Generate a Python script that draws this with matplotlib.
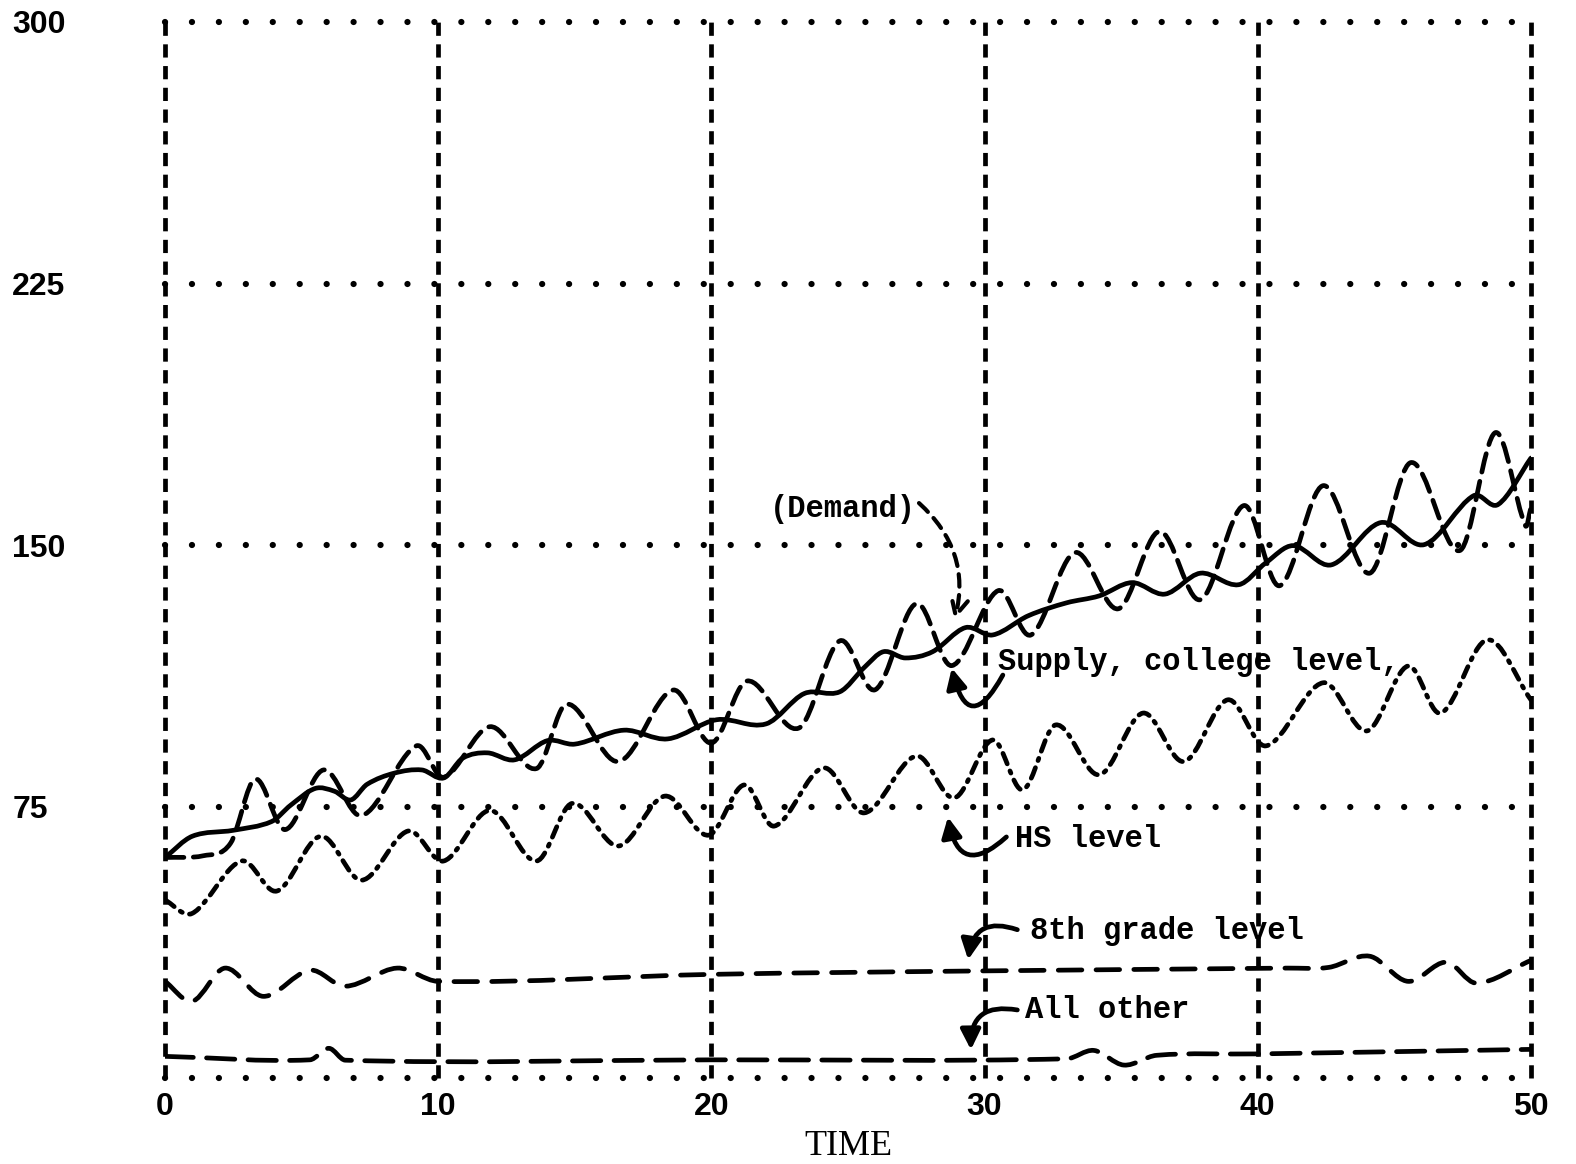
import matplotlib
matplotlib.use("Agg")
import matplotlib.pyplot as plt
from matplotlib.path import Path
from matplotlib.patches import PathPatch

# (time vs. manpower)
demand_t = [0, 1, 2.5, 3.9, 4.6, 5.5, 6.2, 6.8, 7.4, 8.4, 9.4, 10.2, 10.9, 11.8,
            12.8, 14, 15, 16.8, 18.4, 20.2, 22, 23.4, 24.7, 25.6, 26.3, 27.1,
            28.1, 29.3, 30.3, 31.6, 33, 34.2, 35.4, 36.6, 37.9, 39.3, 40.3,
            41.3, 42.7, 44.5, 46.1, 47.9, 48.8, 50]
demand = [60.5, 66.6, 68.3, 70.8, 75.5, 80.3, 79.5, 77, 81.5, 84.7, 85.6, 83.3,
          89, 90.5, 88.5, 94, 93, 97, 94.5, 100, 98.8, 107.5, 108, 115, 119.5,
          117.7, 119.5, 126.4, 124.3, 129.8, 133.5, 135.5, 139.3, 136, 142,
          138.7, 145, 149.9, 144.4, 156.5, 150.2, 164.2, 161.7, 175]

college_t = [0, 1.4, 2.4, 3.3, 4.4, 5.8, 7.2, 9.2, 10.2, 11.9, 13.6, 14.7, 16.6,
             18.6, 20, 21.3, 23.2, 24.7, 26, 27.5, 28.8, 30.5, 31.7, 33.3, 34.9,
             36.4, 37.9, 39.5, 40.8, 42.4, 44.1, 45.6, 47.4, 48.7, 49.8, 50]
college = [60.5, 61, 64.6, 83, 68.5, 85.6, 72.5, 92.5, 83.5, 98, 86, 104.5, 88,
           108.5, 93.3, 111.1, 97.6, 122.6, 108.6, 133.3, 115.5, 137, 124.3,
           147.9, 131.8, 154, 134.4, 161.4, 138.4, 167.1, 142, 173.7, 148.5,
           182.3, 155.6, 160.8]

hs_t = [0, 1, 2.8, 4.1, 5.7, 7.2, 8.9, 10.2, 11.9, 13.6, 14.9, 16.6, 18.3, 19.9,
        21.2, 22.3, 24.1, 25.6, 27.5, 28.9, 30.3, 31.4, 32.6, 34.2, 35.8, 37.3,
        38.9, 40.3, 42.4, 44, 45.5, 46.7, 48.4, 50]
hs = [48.3, 44.5, 59.5, 50.9, 66.6, 54, 68.1, 59.5, 74, 59.5, 76, 63.8, 78.1,
      66.9, 81.3, 69.5, 86.2, 73.3, 89.6, 77.6, 94.2, 79.9, 98.5, 84.2, 101.9,
      88, 105.7, 92.5, 110.6, 96.8, 115.4, 101.9, 122.9, 105.7]

grade8_t = [0, 1, 2.2, 3.6, 5.3, 6.6, 8.5, 10, 20, 30, 41.1, 42.6, 44.1, 45.5,
            46.9, 48, 50]
grade8 = [25, 19.3, 28.8, 20.7, 28.2, 23.6, 28.8, 25, 27, 28, 28.8, 29, 32.2,
          25, 30.5, 24.5, 31]

other_t = [0, 5.3, 6.0, 6.6, 20, 33, 34, 35.1, 36.3, 40, 50]
other = [3.5, 2.5, 5.8, 2.4, 2.5, 2.8, 5.2, 1, 3.8, 4.2, 5.5]

x_ticks = [0, 10, 20, 30, 40, 50]
y_ticks = [75, 150, 225, 300]
y_bottom = -2.7

mono = "Liberation Mono"
LW = 3.4


def curve(ax, xs, ys, **kw):
    # smooth pen-like curve through the read points (cubic Hermite as Bezier)
    n = len(xs)
    m = []
    for i in range(n):
        a, b = max(i - 1, 0), min(i + 1, n - 1)
        m.append((ys[b] - ys[a]) / (xs[b] - xs[a]))
    verts = [(xs[0], ys[0])]
    codes = [Path.MOVETO]
    for i in range(n - 1):
        h = xs[i + 1] - xs[i]
        verts += [(xs[i] + h / 3, ys[i] + m[i] * h / 3),
                  (xs[i + 1] - h / 3, ys[i + 1] - m[i + 1] * h / 3),
                  (xs[i + 1], ys[i + 1])]
        codes += [Path.CURVE4] * 3
    ax.add_patch(PathPatch(Path(verts, codes), fill=False, edgecolor="black",
                           lw=LW, capstyle="round", joinstyle="round", **kw))


fig = plt.figure(figsize=(15.76, 11.64), dpi=100)
ax = fig.add_axes([0.1047, 0.0739, 0.8667, 0.9072])
ax.set_xlim(0, 50)
ax.set_ylim(y_bottom, 300)

# grid: heavy dashes vertical, round dots horizontal
for t in x_ticks:
    ax.axvline(t, color="black", lw=3.4, linestyle=(0, (2.8, 1.8)), zorder=1,
               clip_on=False)
for v in [y_bottom] + y_ticks:
    ax.axhline(v, color="black", lw=4.5, linestyle=(0, (0.01, 4.3)),
               dash_capstyle="round", zorder=1, clip_on=False)

curve(ax, demand_t, demand, linestyle="-")
curve(ax, college_t, college, linestyle=(0, (4, 2)))
curve(ax, hs_t, hs, linestyle=(0, (2.4, 1.6, 0.5, 1.6)))
curve(ax, grade8_t, grade8, linestyle=(0, (5, 3)))
curve(ax, other_t, other, linestyle=(0, (6, 2.8)))

for s in ax.spines.values():
    s.set_visible(False)

ax.set_xticks(x_ticks)
ax.set_xticklabels([str(t) for t in x_ticks], family="Liberation Sans",
                   fontsize=23, fontweight="bold")
ax.set_yticks(y_ticks)
ax.set_yticklabels([str(v) for v in y_ticks], family="Liberation Sans",
                   fontsize=23, fontweight="bold", ha="left")
ax.tick_params(axis="x", length=0, pad=10)
ax.tick_params(axis="y", length=0, pad=110)
ax.set_xlabel("TIME", family="Liberation Serif", fontsize=26, labelpad=6)

tkw = dict(family=mono, fontsize=22, fontweight="bold", va="baseline")
solid_arrow = dict(arrowstyle="-|>", color="black", lw=3.4, mutation_scale=30,
                   shrinkA=0, shrinkB=0)

ax.text(24.8, 158.1, "(Demand)", ha="center", **tkw)
ax.annotate("", xy=(28.9, 128.6), xytext=(27.6, 162.1),
            arrowprops=dict(arrowstyle="->", color="black", lw=3.0,
                            linestyle=(0, (3, 2)), mutation_scale=30,
                            shrinkA=0, shrinkB=0,
                            connectionstyle="arc3,rad=-0.3"))

ax.text(30.5, 114.3, "Supply, college level,", ha="left", **tkw)
ax.annotate("", xy=(28.8, 114.8), xytext=(30.67, 112.8),
            arrowprops=dict(connectionstyle="arc3,rad=-1.3", **solid_arrow))

ax.text(31.1, 63.5, "HS level", ha="left", **tkw)
ax.annotate("", xy=(28.66, 72.1), xytext=(30.8, 66.4),
            arrowprops=dict(connectionstyle="arc3,rad=-0.9", **solid_arrow))

ax.text(31.66, 37.2, "8th grade level", ha="left", **tkw)
ax.annotate("", xy=(29.4, 31.2), xytext=(31.2, 39.8),
            arrowprops=dict(connectionstyle="arc3,rad=0.6", **solid_arrow))

ax.text(31.48, 14.5, "All other", ha="left", **tkw)
ax.annotate("", xy=(29.5, 5.4), xytext=(31.2, 16.8),
            arrowprops=dict(connectionstyle="arc3,rad=0.6", **solid_arrow))

fig.savefig("out.png", dpi=100)
